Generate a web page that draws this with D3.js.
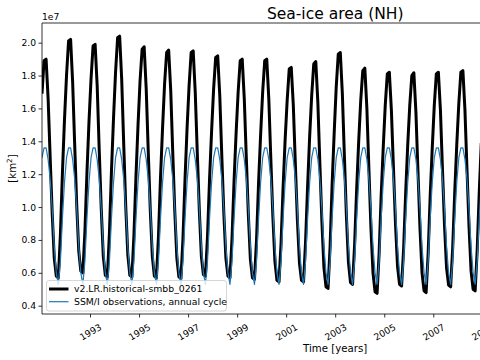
<!DOCTYPE html>
<html><head><meta charset="utf-8">
<script src="https://cdn.jsdelivr.net/npm/d3@7"></script>
<style>body{margin:0;background:#fff}svg{display:block;font-family:"DejaVu Sans",sans-serif}</style>
</head><body><svg id="c" width="480" height="360"></svg>
<script>
const startYear = 1991;
const lastYear = 2014;
// monthly NH sea-ice area, units of 1e7 km^2 (Jan..Dec per row)
const modelArea = [
  1.69,1.89,1.90,1.66,1.30,0.96,0.69,0.58,0.57,0.83,1.21,1.53,
  1.80,2.01,2.02,1.76,1.38,1.01,0.73,0.61,0.60,0.85,1.21,1.52,
  1.78,1.98,1.99,1.74,1.35,0.99,0.70,0.585,0.575,0.84,1.22,1.54,
  1.82,2.03,2.04,1.78,1.38,1.00,0.71,0.585,0.575,0.83,1.19,1.50,
  1.77,1.96,1.975,1.72,1.34,0.98,0.70,0.58,0.57,0.82,1.18,1.48,
  1.75,1.94,1.955,1.71,1.33,0.97,0.69,0.575,0.565,0.81,1.17,1.48,
  1.74,1.94,1.95,1.70,1.33,0.98,0.70,0.59,0.58,0.82,1.17,1.46,
  1.72,1.91,1.92,1.68,1.31,0.96,0.69,0.58,0.57,0.81,1.16,1.45,
  1.70,1.89,1.90,1.66,1.30,0.95,0.68,0.57,0.56,0.80,1.15,1.44,
  1.70,1.89,1.90,1.66,1.29,0.94,0.67,0.555,0.545,0.78,1.12,1.41,
  1.65,1.84,1.85,1.62,1.26,0.92,0.66,0.555,0.545,0.79,1.13,1.43,
  1.68,1.87,1.885,1.64,1.26,0.91,0.63,0.515,0.505,0.76,1.14,1.45,
  1.73,1.93,1.94,1.69,1.31,0.94,0.66,0.54,0.53,0.77,1.11,1.40,
  1.65,1.83,1.845,1.60,1.23,0.87,0.60,0.485,0.475,0.72,1.07,1.36,
  1.62,1.81,1.82,1.59,1.24,0.90,0.64,0.53,0.52,0.75,1.09,1.38,
  1.62,1.80,1.817,1.58,1.22,0.87,0.60,0.49,0.48,0.72,1.07,1.36,
  1.62,1.81,1.82,1.59,1.23,0.89,0.63,0.525,0.515,0.75,1.09,1.38,
  1.63,1.82,1.83,1.59,1.23,0.88,0.61,0.50,0.49,0.74,1.09,1.39
];
// SSM/I observed climatological annual cycle, units of 1e7 km^2
const obsCycle = [1.30,1.36,1.36,1.29,1.17,0.99,0.76,0.60,0.53,0.67,0.93,1.15];
const xTicks = [1993,1995,1997,1999,2001,2003,2005,2007,2009];
const yTicks = [0.4,0.6,0.8,1.0,1.2,1.4,1.6,1.8,2.0];
const seriesNames = ["v2.LR.historical-smbb_0261","SSM/I observations, annual cycle"];
const seriesColors = ["#000000","#1f77b4"];
const titleText = "Sea-ice area (NH)";
const xLabel = "Time [years]";
const yDomain = [0.3495, 2.1196];

const svg = d3.select("#c");
const L = 42, T = 23, R = 628.4, B = 314;
const tOf = i => startYear + (i + 0.5) / 12;
const x = d3.scaleLinear().domain([tOf(0), lastYear + 11.5/12]).range([L, R]);
const y = d3.scaleLinear().domain(yDomain).range([B, T]);

const model = modelArea.map((v, i) => ({t: tOf(i), v}));
const obs = modelArea.map((_, i) => ({t: tOf(i), v: obsCycle[i % 12]}));

svg.append("clipPath").attr("id","clip").append("rect")
  .attr("x", L).attr("y", T).attr("width", R - L).attr("height", B - T);

const line = d3.line().x(d => x(d.t)).y(d => y(d.v));
const plot = svg.append("g").attr("clip-path","url(#clip)");
plot.append("path").datum(model).attr("d", line).attr("fill","none")
  .attr("stroke", seriesColors[0]).attr("stroke-width", 3).attr("stroke-linejoin","round");
plot.append("path").datum(obs).attr("d", line).attr("fill","none")
  .attr("stroke", seriesColors[1]).attr("stroke-width", 1.2).attr("stroke-linejoin","round");

// axes
const ya = svg.append("g").attr("transform", `translate(${L},0)`)
  .call(d3.axisLeft(y).tickValues(yTicks).tickFormat(d3.format(".1f")).tickSize(3.5).tickPadding(2.5));
ya.select(".domain").remove();
ya.selectAll("line").attr("stroke","#000").attr("stroke-width",0.8);
ya.selectAll("text").attr("font-size", 9.2).attr("fill","#000").attr("font-family","DejaVu Sans");

const xa = svg.append("g").attr("transform", `translate(0,${B})`)
  .call(d3.axisBottom(x).tickValues(xTicks).tickFormat(d3.format("d")).tickSize(3.5));
xa.select(".domain").remove();
xa.selectAll("line").attr("stroke","#000").attr("stroke-width",0.8);
xa.selectAll("text").attr("font-size", 9.2).attr("fill","#000").attr("font-family","DejaVu Sans")
  .attr("y", 0).attr("dy","0.35em").attr("text-anchor","middle")
  .attr("transform","translate(0,18) rotate(-30)");

// spines
const sp = svg.append("g").attr("stroke","#000").attr("stroke-width",0.8).attr("fill","none");
sp.append("line").attr("x1",L).attr("x2",L).attr("y1",T).attr("y2",B);
sp.append("line").attr("x1",L).attr("x2",R).attr("y1",B).attr("y2",B);
sp.append("line").attr("x1",L).attr("x2",R).attr("y1",T).attr("y2",T);
sp.append("line").attr("x1",R).attr("x2",R).attr("y1",T).attr("y2",B);

// offset text
svg.append("text").attr("x", L).attr("y", 20).attr("font-size", 9.2).text("1e7");

// title and labels
svg.append("text").attr("x", (L + R) / 2).attr("y", 18.5).attr("text-anchor","middle")
  .attr("font-size", 15.5).text(titleText);
svg.append("text").attr("x", (L + R) / 2).attr("y", 352).attr("text-anchor","middle")
  .attr("font-size", 10.2).text(xLabel);
const yl = svg.append("text").attr("transform", `translate(16,${(T + B) / 2}) rotate(-90)`)
  .attr("text-anchor","middle").attr("font-size", 10.2);
yl.append("tspan").text("[km");
yl.append("tspan").attr("font-size", 7.2).attr("dy", -4).text("2");
yl.append("tspan").attr("dy", 4).text("]");

// legend
const lg = svg.append("g");
lg.append("rect").attr("x", 46.5).attr("y", 280.5).attr("width", 180).attr("height", 30.5)
  .attr("rx", 2.5).attr("fill","#fff").attr("fill-opacity",0.8).attr("stroke","#ccc").attr("stroke-width",0.8);
seriesNames.forEach((n, i) => {
  const yy = 289 + i * 12.7;
  lg.append("line").attr("x1", 49).attr("x2", 68.5).attr("y1", yy).attr("y2", yy)
    .attr("stroke", seriesColors[i]).attr("stroke-width", i === 0 ? 3 : 1.2);
  lg.append("text").attr("x", 74).attr("y", yy + 3.3).attr("font-size", 9.3).text(n);
});
</script></body></html>
